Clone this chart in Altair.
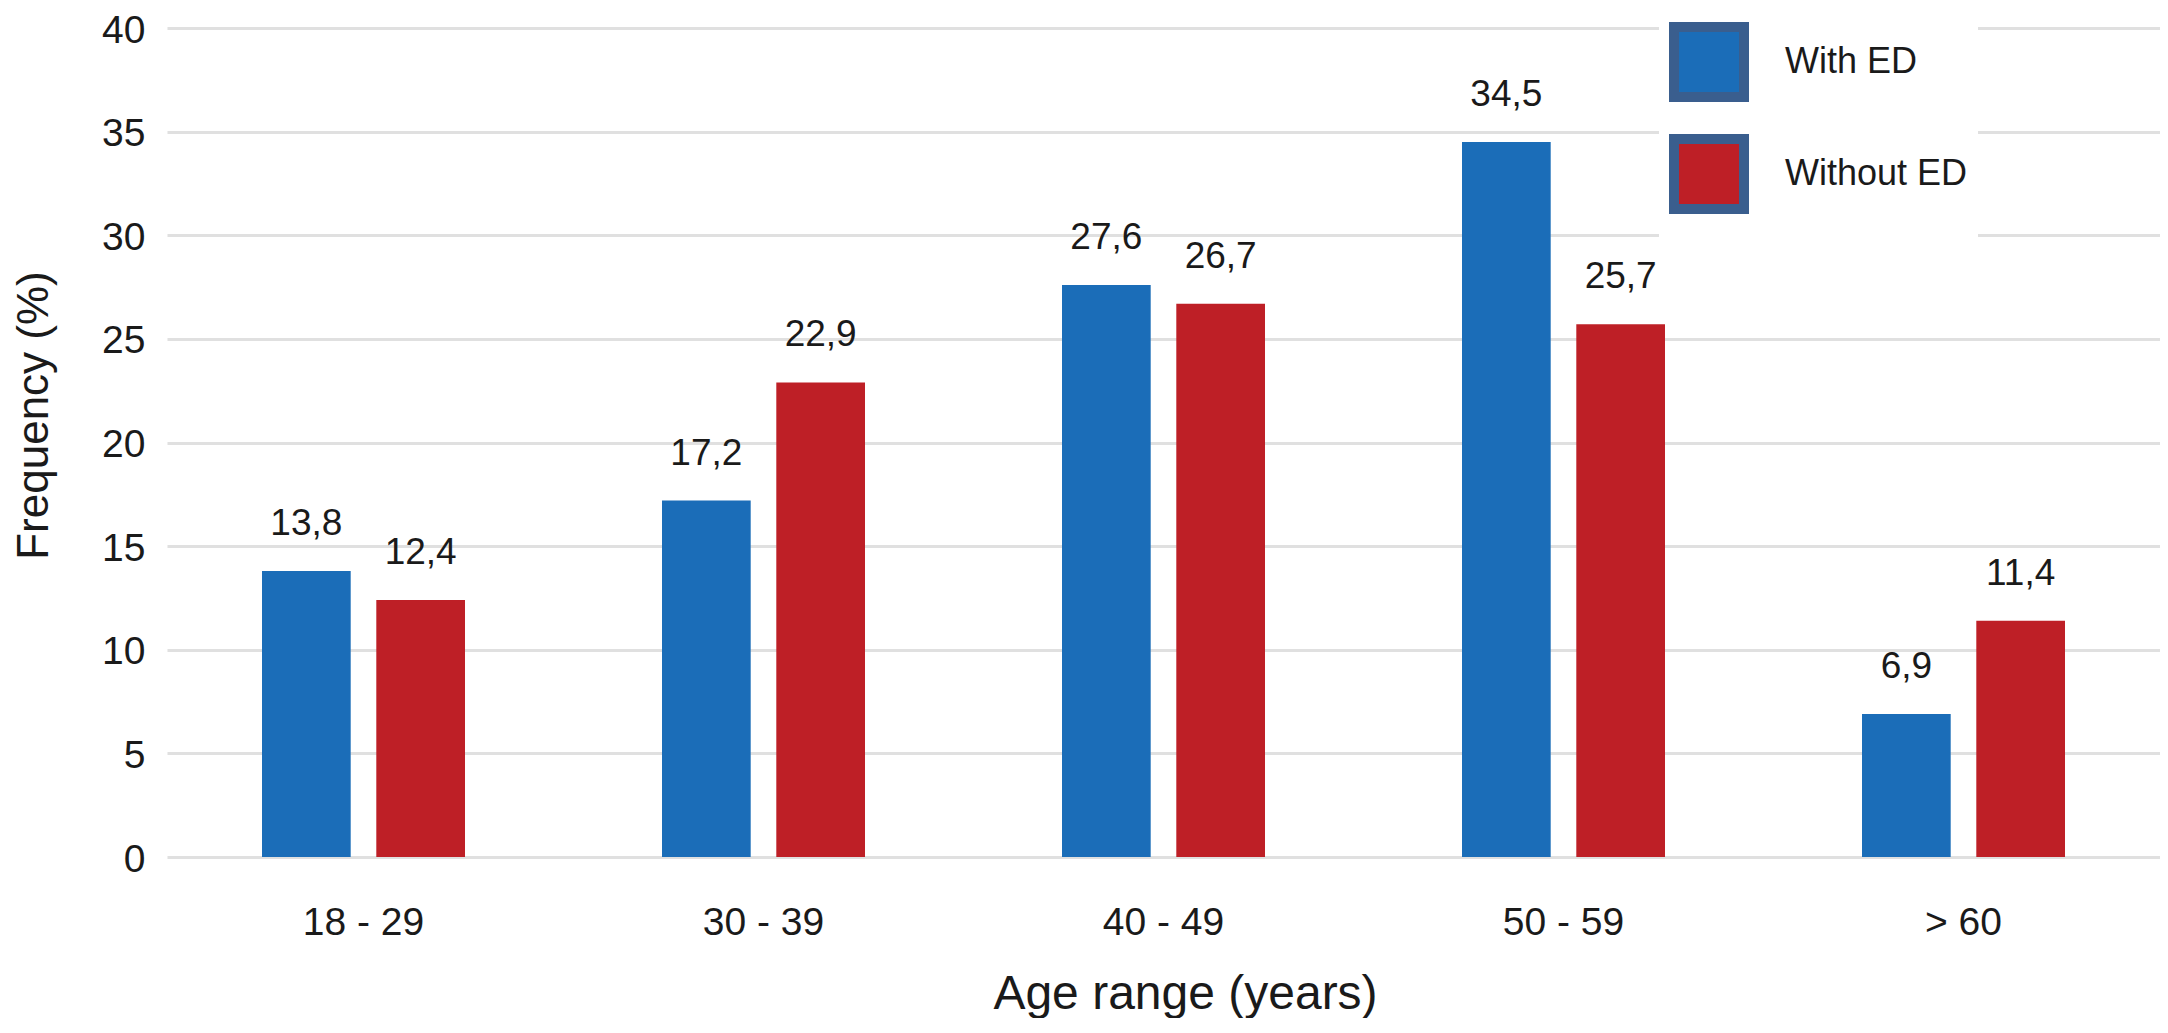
import altair as alt
import pandas as pd

# ---- data ----
age_groups = ["18 - 29", "30 - 39", "40 - 49", "50 - 59", "> 60"]
series = ["With ED", "Without ED"]
with_ed = [13.8, 17.2, 27.6, 34.5, 6.9]
without_ed = [12.4, 22.9, 26.7, 25.7, 11.4]
y_ticks = [0, 5, 10, 15, 20, 25, 30, 35, 40]
colors = ["#1b6db8", "#be1f26"]

rows = []
for i, g in enumerate(age_groups):
    rows.append({"age": g, "group": series[0], "value": with_ed[i]})
    rows.append({"age": g, "group": series[1], "value": without_ed[i]})
df = pd.DataFrame(rows)

FONT = "Liberation Sans"
TXT = "#1a1a1a"

x_enc = alt.X(
    "age:N",
    sort=age_groups,
    scale=alt.Scale(paddingInner=0.4925, paddingOuter=0.2375),
    axis=alt.Axis(
        title="Age range (years)",
        labelAngle=0,
        labelFont=FONT,
        labelFontSize=39,
        labelColor=TXT,
        labelPadding=46,
        ticks=False,
        domain=False,
        grid=False,
        titleFont=FONT,
        titleFontSize=48,
        titleFontWeight="normal",
        titleColor=TXT,
        titleX=1018,
        titleY=151,
        titleBaseline="alphabetic",
    ),
)
xoff_enc = alt.XOffset(
    "group:N", sort=series, scale=alt.Scale(paddingInner=0.224, paddingOuter=0)
)
y_enc = alt.Y(
    "value:Q",
    scale=alt.Scale(domain=[0, 40], nice=False),
    axis=alt.Axis(
        title="Frequency (%)",
        values=y_ticks,
        labelFont=FONT,
        labelFontSize=39,
        labelColor=TXT,
        labelPadding=22,
        labelOffset=2,
        ticks=False,
        domain=False,
        grid=True,
        gridColor="#e0e0e0",
        gridWidth=3,
        titleFont=FONT,
        titleFontSize=44,
        titleFontWeight="normal",
        titleColor=TXT,
        titleX=-133,
        titleY=387,
        titleBaseline="middle",
        titleAlign="center",
    ),
)
color_enc = alt.Color(
    "group:N",
    sort=series,
    scale=alt.Scale(domain=series, range=colors),
    legend=alt.Legend(
        title=None,
        orient="none",
        legendX=1492,
        legendY=-16,
        symbolType="square",
        symbolSize=4900,
        symbolStrokeWidth=10,
        symbolStrokeColor="#3a5e8e",
        symbolOpacity=1,
        labelFont=FONT,
        labelFontSize=36,
        labelColor=TXT,
        labelOffset=36,
        labelLimit=400,
        rowPadding=2,
        padding=10,
        fillColor="white",
    ),
)

base = alt.Chart(df).encode(x=x_enc, xOffset=xoff_enc, y=y_enc)

bars = base.mark_bar().encode(color=color_enc)

labels = base.transform_calculate(
    label="replace(format(datum.value, '.1f'), '.', ',')"
).mark_text(
    dy=-36, baseline="alphabetic", align="center", font=FONT, fontSize=37, color=TXT
).encode(text="label:N")

chart = (
    alt.layer(bars, labels)
    .properties(
        width=1993,
        height=829,
        padding={"left": 159, "top": 20, "right": 0, "bottom": 161},
        autosize=alt.AutoSizeParams(type="none"),
        background="white",
    )
    .configure_view(stroke=None)
)

chart.save("out.html", embed_options={"renderer": "svg", "actions": False})
